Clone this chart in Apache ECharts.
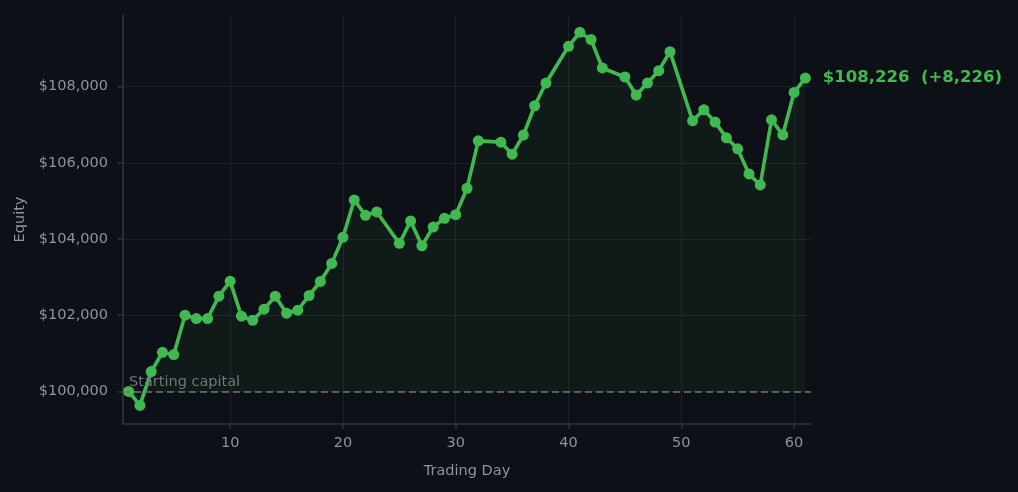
<!DOCTYPE html>
<html>
<head>
<meta charset="utf-8">
<script src="https://cdn.jsdelivr.net/npm/echarts@6/dist/echarts.min.js"></script>
<style>
  html, body { margin: 0; padding: 0; background: #0d1117; }
  #chart { width: 1018px; height: 492px; }
</style>
</head>
<body>
<div id="chart"></div>
<script>
// trading days (a few days missing in the record)
const days = [1, 2, 3, 4, 5, 6, 7, 8, 9, 10, 11, 12, 13, 14, 15, 16, 17, 18, 19, 20,
  21, 22, 23, 25, 26, 27, 28, 29, 30, 31, 32, 34, 35, 36, 37, 38, 40, 41, 42, 43,
  45, 46, 47, 48, 49, 51, 52, 53, 54, 55, 56, 57, 58, 59, 60, 61];
const equity = [100000, 99632, 100520, 101026, 100966, 102000, 101913, 101913, 102500, 102895,
  101974, 101868, 102158, 102500, 102053, 102132, 102518, 102887, 103361, 104045,
  105026, 104624, 104711, 103887, 104474, 103824, 104316, 104545, 104639, 105334,
  106579, 106545, 106229, 106729, 107500, 108097, 109061, 109429, 109237, 108492,
  108255, 107782, 108097, 108421, 108921, 107105, 107395, 107071, 106658, 106368,
  105711, 105421, 107132, 106737, 107850, 108226];
const startCapital = 100000;
const xTicks = [10, 20, 30, 40, 50, 60];
const yTicks = [100000, 102000, 104000, 106000, 108000];

const green = '#3fb950';
const muted = '#8b949e';
const fontFamily = 'DejaVu Sans';

const chart = echarts.init(document.getElementById('chart'));

const points = days.map((d, i) => [d, equity[i]]);
const last = points[points.length - 1];
const gain = last[1] - startCapital;
const fmt = v => v.toLocaleString('en-US');

points[points.length - 1] = {
  value: last,
  label: {
    show: true,
    position: 'right',
    distance: 12,
    formatter: '$' + fmt(last[1]) + '  (+' + fmt(gain) + ')',
    color: green,
    fontWeight: 'bold',
    fontSize: 16.5,
    fontFamily: fontFamily
  }
};

chart.setOption({
  backgroundColor: '#0d1117',
  animation: false,
  textStyle: { fontFamily: fontFamily },
  grid: { left: 123, right: 207, top: 15, bottom: 68 },
  xAxis: {
    type: 'value',
    min: 0.5,
    max: 61.5,
    name: 'Trading Day',
    nameLocation: 'middle',
    nameGap: 40,
    nameTextStyle: { color: muted, fontSize: 14.5, fontFamily: fontFamily },
    axisLine: { show: true, lineStyle: { color: '#30363d', width: 1.5 } },
    axisTick: { show: true, length: 5, customValues: xTicks, lineStyle: { color: '#30363d', width: 1.5 } },
    axisLabel: { customValues: xTicks, color: muted, fontSize: 14.5, margin: 12, fontFamily: fontFamily },
    splitLine: { show: true, lineStyle: { color: '#1c2129', width: 1 } }
  },
  yAxis: {
    type: 'value',
    min: 99144,
    max: 109883,
    name: 'Equity',
    nameLocation: 'middle',
    nameGap: 90,
    nameTextStyle: { color: muted, fontSize: 14.5, fontFamily: fontFamily },
    axisLine: { show: true, lineStyle: { color: '#30363d', width: 1.5 } },
    axisTick: { show: true, length: 5, customValues: yTicks, lineStyle: { color: '#30363d', width: 1.5 } },
    axisLabel: {
      customValues: yTicks,
      color: muted,
      fontSize: 14.5,
      margin: 15,
      fontFamily: fontFamily,
      formatter: v => '$' + fmt(v)
    },
    splitLine: { show: true, lineStyle: { color: '#1c2129', width: 1 } }
  },
  series: [
    {
      type: 'line',
      data: points,
      symbol: 'circle',
      symbolSize: 11,
      lineStyle: { color: green, width: 3.6 },
      itemStyle: { color: green },
      areaStyle: { origin: startCapital, color: 'rgba(63,185,80,0.08)' },
      z: 3,
      markLine: {
        silent: true,
        symbol: 'none',
        data: [{ yAxis: startCapital }],
        lineStyle: { color: '#6e7681', type: [7, 4], width: 1.5 },
        label: {
          show: true,
          position: 'insideStartTop',
          formatter: 'Starting capital',
          color: '#6e7681',
          fontSize: 14.5,
          fontFamily: fontFamily,
          distance: [6, 2]
        }
      }
    }
  ]
});
</script>
</body>
</html>
